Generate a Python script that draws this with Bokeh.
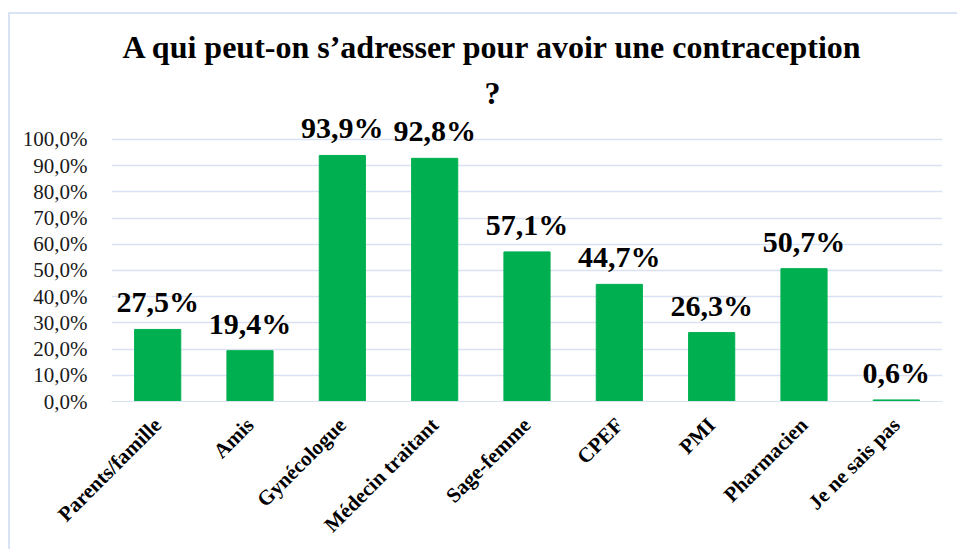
import math
from bokeh.plotting import figure
from bokeh.core.properties import value
from bokeh.models import ColumnDataSource, LabelSet, Title, FixedTicker
from bokeh.embed import file_html
from bokeh.resources import INLINE

categories = ["Parents/famille", "Amis", "Gynécologue", "Médecin traitant",
              "Sage-femme", "CPEF", "PMI", "Pharmacien", "Je ne sais pas"]
values = [27.5, 19.4, 93.9, 92.8, 57.1, 44.7, 26.3, 50.7, 0.6]
value_labels = [f"{v:.1f}%".replace(".", ",") for v in values]
y_ticks = list(range(0, 101, 10))
y_tick_labels = {t: f"{t},0%" for t in y_ticks}

title_line1 = "A qui peut-on s\u2019adresser pour avoir une contraception"
title_line2 = "?"

SERIF = "'Liberation Serif', 'Times New Roman', serif"
GRID = "#D9E1F2"

src = ColumnDataSource(dict(cat=categories, val=values, lab=value_labels))

p = figure(x_range=categories, y_range=(0, 108), width=949, height=537,
           output_backend="svg", toolbar_location=None,
           min_border_left=101, min_border_right=17, min_border_top=104,
           min_border_bottom=150)
p.x_range.range_padding = 0
p.outline_line_color = None
p.background_fill_color = "white"
p.border_fill_color = "white"

p.vbar(x="cat", top="val", width=0.5, source=src, color="#00B050")

labels = LabelSet(x="cat", y="val", text="lab", source=src, y_offset=11,
                  text_align="center", text_baseline="bottom",
                  text_font=value(SERIF), text_font_style="bold",
                  text_font_size="30px", text_color="black")
p.add_layout(labels)

# Titles (closest to frame first)
t2 = Title(text=title_line2, align="left", offset=373, text_font=SERIF,
           text_font_style="bold", text_font_size="32px", text_color="black",
           standoff=16)
t1 = Title(text=title_line1, align="left", offset=11, text_font=SERIF,
           text_font_style="bold", text_font_size="32px", text_color="black",
           standoff=0)
p.title.visible = False
p.add_layout(t2, "above")
p.add_layout(t1, "above")

# axes
p.yaxis.ticker = FixedTicker(ticks=y_ticks)
p.yaxis.major_label_overrides = y_tick_labels
p.yaxis.axis_line_color = None
p.yaxis.major_tick_line_color = None
p.yaxis.minor_tick_line_color = None
p.yaxis.major_label_text_font = SERIF
p.yaxis.major_label_text_font_size = "21px"
p.yaxis.major_label_text_color = "#1a1a1a"
p.yaxis.major_label_standoff = 18

p.xaxis.axis_line_color = GRID
p.xaxis.major_tick_line_color = None
p.xaxis.minor_tick_line_color = None
p.xaxis.major_label_orientation = math.pi / 4
p.xaxis.major_label_text_font = SERIF
p.xaxis.major_label_text_font_style = "bold"
p.xaxis.major_label_text_font_size = "21px"
p.xaxis.major_label_text_color = "black"
p.xaxis.major_label_standoff = 14

p.xgrid.grid_line_color = None
p.ygrid.ticker = FixedTicker(ticks=y_ticks)
p.ygrid.grid_line_color = GRID
p.ygrid.grid_line_width = 1.5

p.styles = {"margin-left": "8px", "margin-top": "12px",
            "border-top": "2px solid #DAE3F3", "border-left": "2px solid #DAE3F3"}

open("out.html", "w").write(file_html(p, INLINE))
